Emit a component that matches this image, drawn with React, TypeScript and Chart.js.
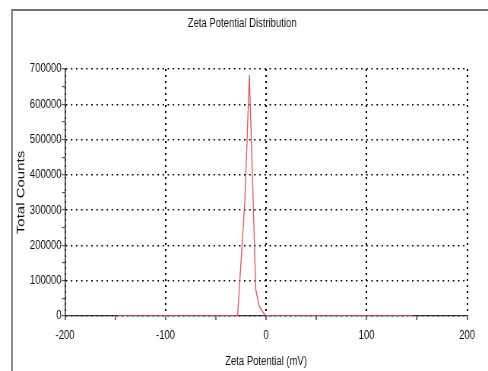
import React, { useEffect, useRef } from "react";
import { Chart, registerables } from "chart.js";

Chart.register(...registerables);

// Data
const zetaMv: number[] = [-148, -28.3, -21.0, -16.6, -10.2, -6.8, -2.8, 0, 146];
const totalCounts: number[] = [0, 0, 330000, 683000, 75000, 27000, 10000, 0, 0];

const xMin = -200;
const xMax = 200;
const xStep = 50;
const xLabelStep = 100;
const yMin = 0;
const yMax = 700000;
const yStep = 50000;
const yLabelStep = 100000;

const chartTitle = "Zeta Potential Distribution";
const xTitle = "Zeta Potential (mV)";
const yTitle = "Total Counts";

// The reference is horizontally compressed; draw wider and scale down.
const SCALE_X = 0.76;
const DISPLAY_W = 488;
const DISPLAY_H = 371;
const CANVAS_W = Math.round(DISPLAY_W / SCALE_X);
const CANVAS_H = DISPLAY_H;

const FONT = "'Liberation Sans', Arial, Helvetica, sans-serif";
const TEXT = "#111";

export default function App() {
  const ref = useRef<HTMLCanvasElement | null>(null);

  useEffect(() => {
    if (!ref.current) return;
    const points = zetaMv.map((x, i) => ({ x, y: totalCounts[i] }));
    const chart = new Chart(ref.current, {
      type: "line",
      data: {
        datasets: [
          {
            data: points,
            borderColor: "rgb(222, 85, 85)",
            borderWidth: 1.3,
            pointRadius: 0,
            tension: 0,
            fill: false,
          },
        ],
      },
      options: {
        responsive: false,
        devicePixelRatio: 1,
        animation: false,
        layout: { padding: { left: 22.7, right: 27.5, top: 0, bottom: 0 } },
        plugins: {
          legend: { display: false },
          tooltip: { enabled: false },
          title: {
            display: true,
            text: chartTitle,
            color: TEXT,
            font: { family: FONT, size: 12.5, weight: "normal" },
            padding: { top: 16.5, bottom: 37.5 },
          },
        },
        scales: {
          x: {
            type: "linear",
            min: xMin,
            max: xMax,
            afterFit: (s: any) => {
              s.height = 55;
            },
            ticks: {
              stepSize: xStep,
              autoSkip: false,
              maxRotation: 0,
              padding: 8,
              color: TEXT,
              font: { family: FONT, size: 12.5 },
              callback: (v: any) => (Number(v) % xLabelStep === 0 ? String(v) : ""),
            },
            grid: {
              color: (c: any) =>
                c.tick && c.tick.value % xLabelStep === 0 ? "#000" : "rgba(0,0,0,0)",
              lineWidth: 2,
              tickColor: "#333",
              tickLength: 4,
              tickWidth: 1.4,
            },
            border: { display: true, color: "#333", width: 1.3, dash: [2, 4] },
            title: {
              display: true,
              text: xTitle,
              color: TEXT,
              font: { family: FONT, size: 12.5 },
              padding: { top: 0, bottom: 1.5 },
            },
          },
          y: {
            type: "linear",
            min: yMin,
            max: yMax,
            afterFit: (s: any) => {
              s.width = 85.5 - 22.7;
            },
            ticks: {
              stepSize: yStep,
              autoSkip: false,
              padding: 0.5,
              color: TEXT,
              font: { family: FONT, size: 12.5 },
              callback: (v: any) => (Number(v) % yLabelStep === 0 ? String(v) : ""),
            },
            grid: {
              color: (c: any) =>
                c.tick && c.tick.value % yLabelStep === 0 ? "#000" : "rgba(0,0,0,0)",
              lineWidth: 1.4,
              tickColor: "#333",
              tickLength: 4,
              tickWidth: 1,
            },
            border: { display: true, color: "#333", width: 1.5, dash: [2, 4.7] },
            title: {
              display: true,
              text: yTitle,
              color: TEXT,
              font: { family: FONT, size: 15, lineHeight: 1 },
              padding: { top: -2.6, bottom: 0 },
            },
          },
        },
      },
    });
    return () => chart.destroy();
  }, []);

  return (
    <div
      style={{
        position: "fixed",
        left: 0,
        top: 0,
        width: DISPLAY_W,
        height: DISPLAY_H,
        overflow: "hidden",
        background: "#fff",
      }}
    >
      <div
        style={{
          position: "absolute",
          left: 11,
          top: 9,
          right: -10,
          bottom: -10,
          borderLeft: "2px solid #8c8c8c",
          borderTop: "2px solid #6f6f6f",
        }}
      />
      <canvas
        ref={ref}
        width={CANVAS_W}
        height={CANVAS_H}
        style={{
          position: "absolute",
          left: 0,
          top: 0,
          width: DISPLAY_W + "px",
          height: DISPLAY_H + "px",
        }}
      />
    </div>
  );
}
